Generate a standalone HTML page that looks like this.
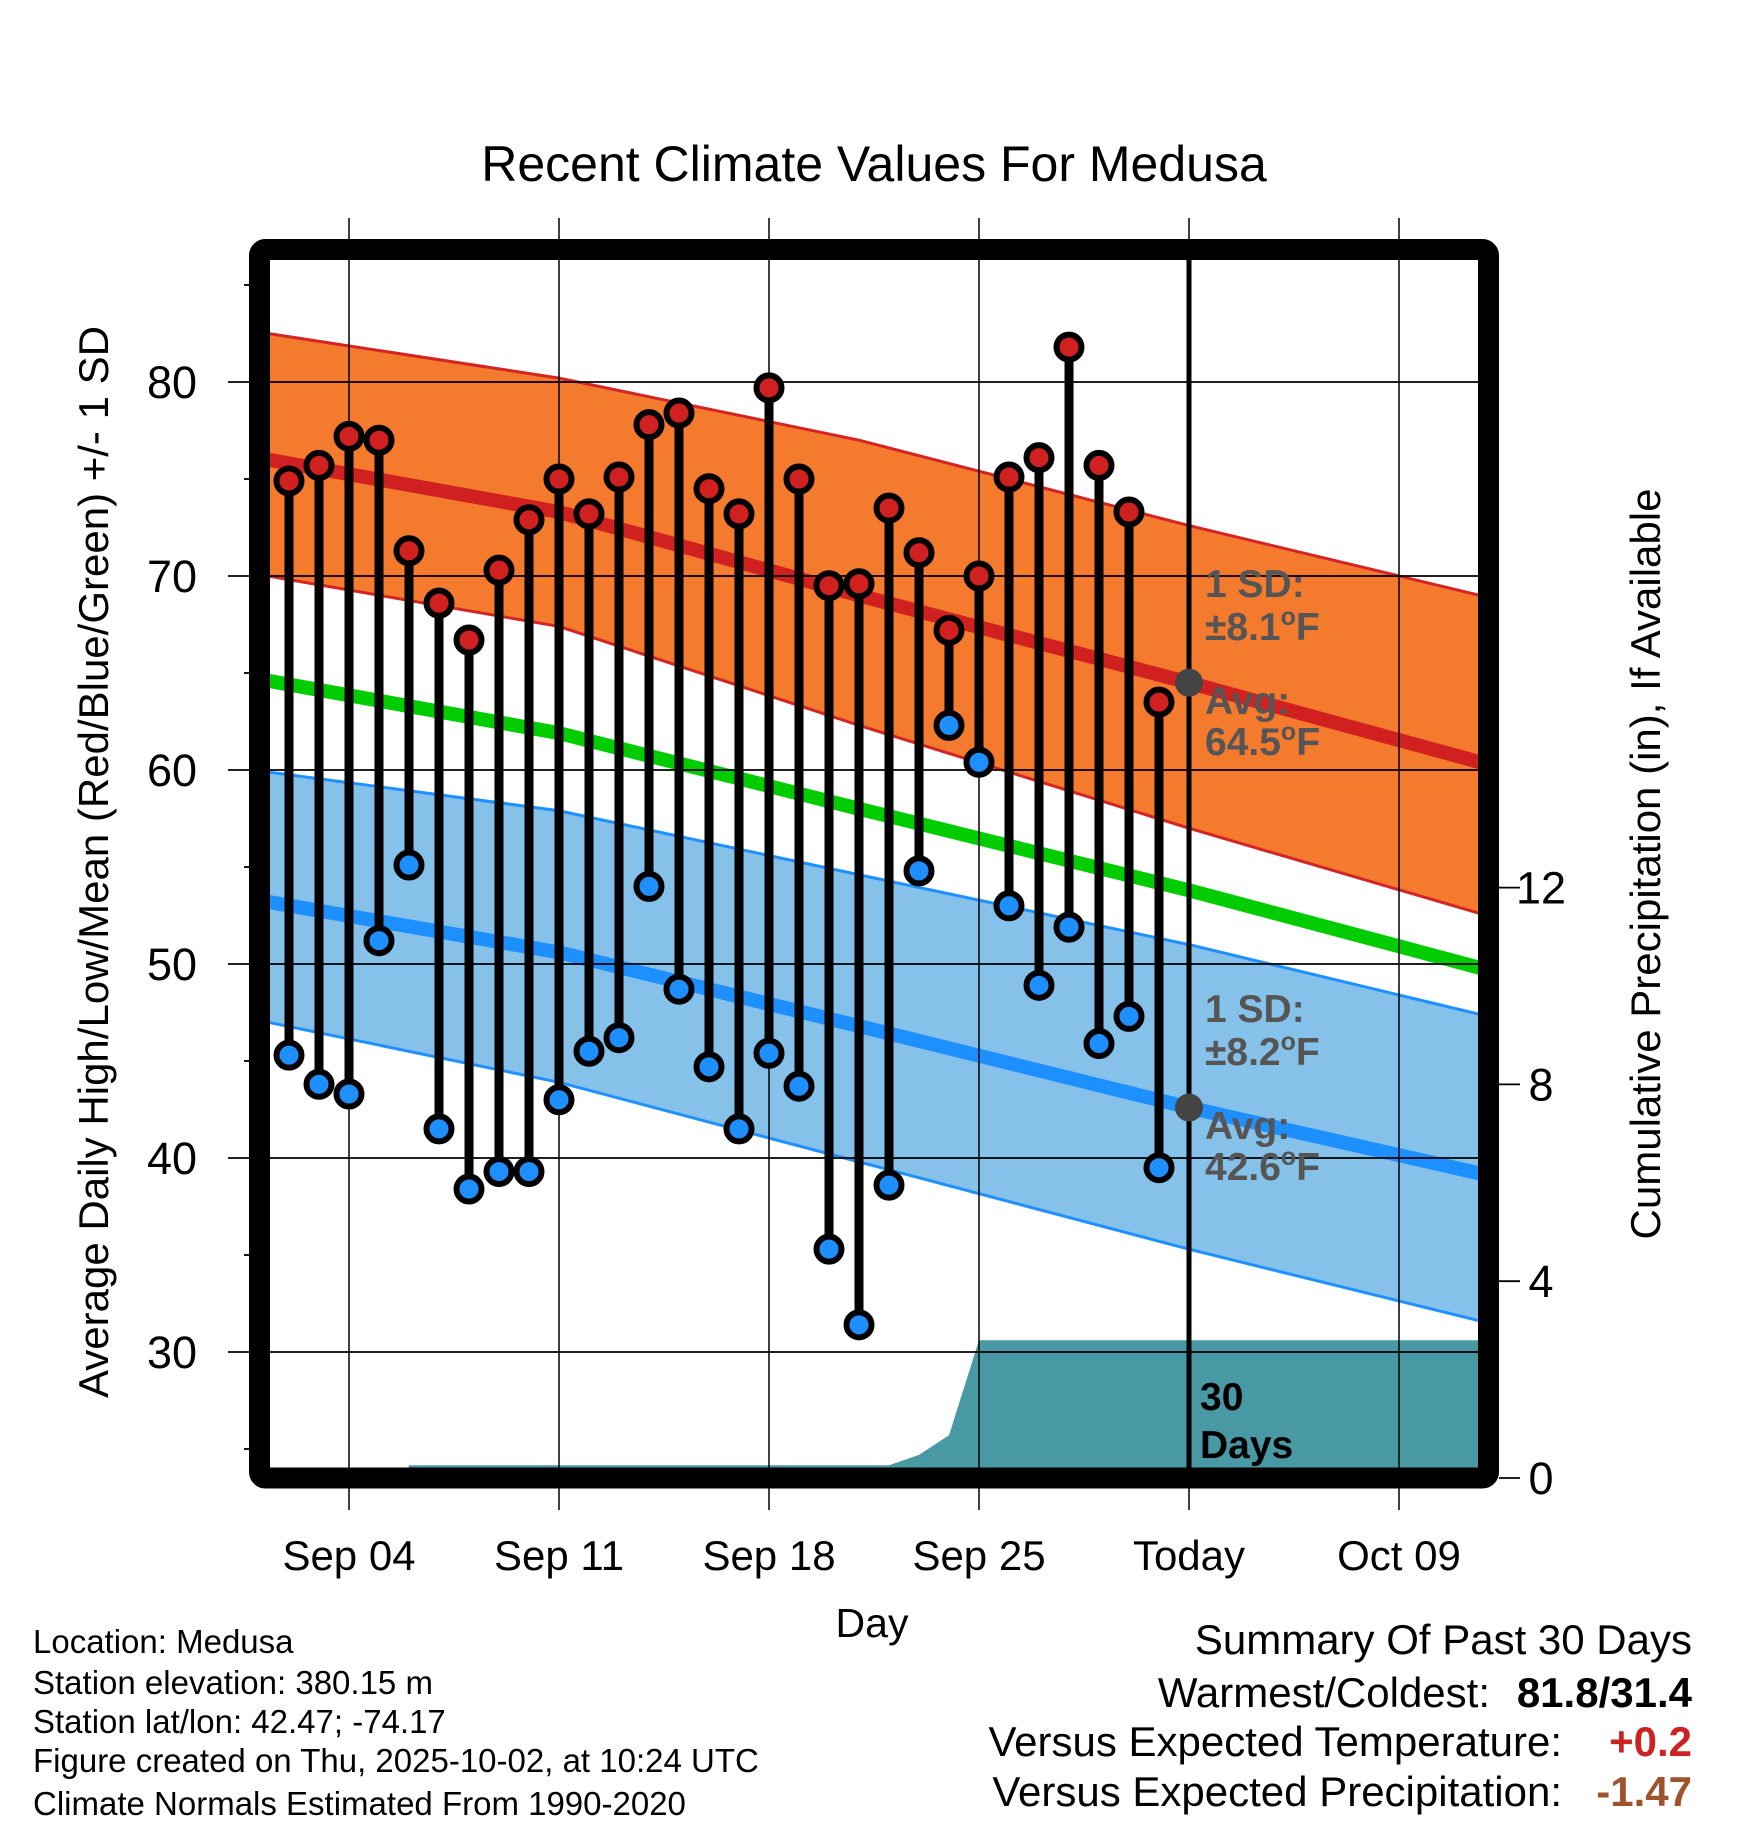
<!DOCTYPE html>
<html><head><meta charset="utf-8"><style>
html,body{margin:0;padding:0;background:#fff;}
svg{display:block;font-family:"Liberation Sans",Arial,sans-serif;}
</style></head><body>
<svg id="chart" width="1748" height="1828" viewBox="0 0 1748 1828" xmlns="http://www.w3.org/2000/svg">
<text x="874" y="181" font-size="50" text-anchor="middle">Recent Climate Values For Medusa</text>
<g id="plot"></g>
<text transform="translate(108,862) rotate(-90)" font-size="42" text-anchor="middle">Average Daily High/Low/Mean (Red/Blue/Green) +/- 1 SD</text>
<text transform="translate(1660,864) rotate(-90)" font-size="42" text-anchor="middle">Cumulative Precipitation (in), If Available</text>
<text x="872" y="1637" font-size="41" text-anchor="middle">Day</text>
<g font-size="33">
<text x="33" y="1653">Location: Medusa</text>
<text x="33" y="1694">Station elevation: 380.15 m</text>
<text x="33" y="1733">Station lat/lon: 42.47; -74.17</text>
<text x="33" y="1772">Figure created on Thu, 2025-10-02, at 10:24 UTC</text>
<text x="33" y="1815">Climate Normals Estimated From 1990-2020</text>
</g>
<g font-size="42">
<text x="1692" y="1654" text-anchor="end">Summary Of Past 30 Days</text>
<text x="1490" y="1707" text-anchor="end">Warmest/Coldest:</text>
<text x="1692" y="1707" text-anchor="end" font-weight="bold">81.8/31.4</text>
<text x="1562" y="1756" text-anchor="end">Versus Expected Temperature:</text>
<text x="1692" y="1756" text-anchor="end" font-weight="bold" fill="#cc2222">+0.2</text>
<text x="1562" y="1806" text-anchor="end">Versus Expected Precipitation:</text>
<text x="1692" y="1806" text-anchor="end" font-weight="bold" fill="#a0522d">-1.47</text>
</g>
</svg>
<script>
// days: Sep day number (Oct 1 = 31)
const days = [2,3,4,5,6,7,8,9,10,11,12,13,14,15,16,17,18,19,20,21,22,23,24,25,26,27,28,29,30,31];
const highs = [74.9,75.7,77.2,77.0,71.3,68.6,66.7,70.3,72.9,75.0,73.2,75.1,77.8,78.4,74.5,73.2,79.7,75.0,69.5,69.6,73.5,71.2,67.2,70.0,75.1,76.1,81.8,75.7,73.3,63.5];
const lows = [45.3,43.8,43.3,51.2,55.1,41.5,38.4,39.3,39.3,43.0,45.5,46.2,54.0,48.7,44.7,41.5,45.4,43.7,35.3,31.4,38.6,54.8,62.3,60.4,53.0,48.9,51.9,45.9,47.3,39.5];
const precipDays = [1.3,5.9,6,22,23,24,25,31,41.7];
const precipCum = [0,0,0.26,0.26,0.47,0.87,2.8,2.8,2.8];
const normDays = [1.3,11,21,32,41.7];
const normHigh = [76.0,73.3,69.0,64.5,60.4];
const highUpper = [82.5,80.2,77.0,72.6,69.0];
const highLower = [70.0,67.4,62.3,57.0,52.6];
const normMean = [64.6,61.9,58.0,53.8,49.8];
const normLow = [53.2,50.6,46.8,42.6,39.2];
const lowUpper = [59.9,57.9,54.6,51.0,47.4];
const lowLower = [47.0,43.9,39.8,35.3,31.6];
const yTicks = [30,40,50,60,70,80];
const pTicks = [0,4,8,12];
const xTickDays = [4,11,18,25,32,39];
const xTickLabels = ["Sep 04","Sep 11","Sep 18","Sep 25","Today","Oct 09"];
const todayDay = 32;

const NS="http://www.w3.org/2000/svg";
const X0=270,X1=1478,Y0=260,Y1=1468;
const xs=d=>349+(d-4)*30;
const ys=t=>382+(80-t)*19.4;
const yp=p=>1478-p*49.2;
const g=document.getElementById('plot');
function mk(tag,attrs,parent){const e=document.createElementNS(NS,tag);for(const k in attrs)e.setAttribute(k,attrs[k]);(parent||g).appendChild(e);return e;}

const defs=mk('defs',{});
const cp=mk('clipPath',{id:'clip'},defs);
mk('rect',{x:X0,y:Y0,width:X1-X0,height:Y1-Y0},cp);
const inner=mk('g',{'clip-path':'url(#clip)'});

function pts(arrX,arrY,fx,fy){return arrX.map((d,i)=>fx(d)+','+fy(arrY[i])).join(' ');}
function band(up,lo,fill,name){
  const p=normDays.map((d,i)=>xs(d)+','+ys(up[i])).concat(normDays.slice().reverse().map((d,i)=>xs(d)+','+ys(lo[lo.length-1-i])));
  const e=mk('polygon',{points:p.join(' '),fill:fill},inner);
  
  
}
function line(arr,color,w,name){
  const e=mk('polyline',{points:pts(normDays,arr,xs,ys),fill:'none',stroke:color,'stroke-width':w,'stroke-linejoin':'round'},inner);
  
  
}
band(highUpper,highLower,'#f47a2e','high-sd-band');
line(highUpper,'#d42424',3,'high-upper-edge');
line(highLower,'#d42424',3,'high-lower-edge');
band(lowUpper,lowLower,'#85c1e9','low-sd-band');
line(lowUpper,'#1e90ff',3,'low-upper-edge');
line(lowLower,'#1e90ff',3,'low-lower-edge');
line(normHigh,'#d02020',14,'normal-high-line');
line(normLow,'#1e8fff',14,'normal-low-line');
line(normMean,'#00cc00',14,'normal-mean-line');

// precip area
const pp=precipDays.map((d,i)=>xs(d)+','+yp(precipCum[i]));
pp.push(xs(precipDays[precipDays.length-1])+','+yp(0));
pp.push(xs(precipDays[0])+','+yp(0));
const pa=mk('polygon',{points:pp.join(' '),fill:'#4899a3'},inner);



// horizontal grid
yTicks.forEach(t=>{
  const l=mk('line',{x1:228,x2:X1,y1:ys(t),y2:ys(t),stroke:'#000','stroke-width':1.8});
  
  
  const tx=mk('text',{x:197,y:ys(t)+16,'font-size':45,'text-anchor':'end'});
  tx.textContent=t;
  
  
});
for(let t=25;t<=85;t+=10){mk('line',{x1:244,x2:252,y1:ys(t),y2:ys(t),stroke:'#000','stroke-width':1.8});}
// vertical grid
xTickDays.forEach((d,i)=>{
  const l=mk('line',{x1:xs(d),x2:xs(d),y1:218,y2:1510,stroke:'#000','stroke-width':1.5});
  
  
  const tx=mk('text',{x:xs(d),y:1570,'font-size':42,'text-anchor':'middle'});
  tx.textContent=xTickLabels[i];
  
  
});
const tl=mk('line',{x1:xs(todayDay),x2:xs(todayDay),y1:Y0,y2:Y1,stroke:'#000','stroke-width':5});


// precip ticks
pTicks.forEach(p=>{
  mk('line',{x1:1499,x2:1520,y1:yp(p),y2:yp(p),stroke:'#000','stroke-width':1.8});
  const tx=mk('text',{x:1541,y:yp(p)+16,'font-size':45,'text-anchor':'middle'});
  tx.textContent=p;
  
  
});

// stems and markers
days.forEach((d,i)=>{
  const st=mk('line',{x1:xs(d),x2:xs(d),y1:ys(highs[i]),y2:ys(lows[i]),stroke:'#000','stroke-width':9});
  
  
});
days.forEach((d,i)=>{
  const h=mk('circle',{cx:xs(d),cy:ys(highs[i]),r:12.5,fill:'#d02020',stroke:'#000','stroke-width':6});
  
  
  const l=mk('circle',{cx:xs(d),cy:ys(lows[i]),r:12.5,fill:'#1e8fff',stroke:'#000','stroke-width':6});
  
  
});
// today normal dots
[64.5,42.6].forEach(t=>{
  const c=mk('circle',{cx:xs(todayDay),cy:ys(t),r:14,fill:'#444'});
  
  
});
// annotations
function txt(s,x,y,sz,col,name){const t=mk('text',{x:x,y:y,'font-size':sz,'font-weight':'bold',fill:col});t.innerHTML=s;}
txt('1 SD:',1205,597,39,'#555','high-sd-label');
txt('±8.1<tspan font-size="25" dy="-15">o</tspan><tspan dy="15">F</tspan>',1205,640,39,'#555','high-sd-value');
txt('Avg:',1205,714,39,'#555','high-avg-label');
txt('64.5<tspan font-size="25" dy="-15">o</tspan><tspan dy="15">F</tspan>',1205,755,39,'#555','high-avg-value');
txt('1 SD:',1205,1022,39,'#555','low-sd-label');
txt('±8.2<tspan font-size="25" dy="-15">o</tspan><tspan dy="15">F</tspan>',1205,1065,39,'#555','low-sd-value');
txt('Avg:',1205,1139,39,'#555','low-avg-label');
txt('42.6<tspan font-size="25" dy="-15">o</tspan><tspan dy="15">F</tspan>',1205,1180,39,'#555','low-avg-value');
txt('30',1200,1410,39,'#000','days-label');
txt('Days',1200,1458,39,'#000','days-label-2');
// frame
const fr=mk('rect',{x:259.5,y:249.5,width:1229,height:1228.5,rx:6,fill:'none',stroke:'#000','stroke-width':21});


</script>
</body></html>
